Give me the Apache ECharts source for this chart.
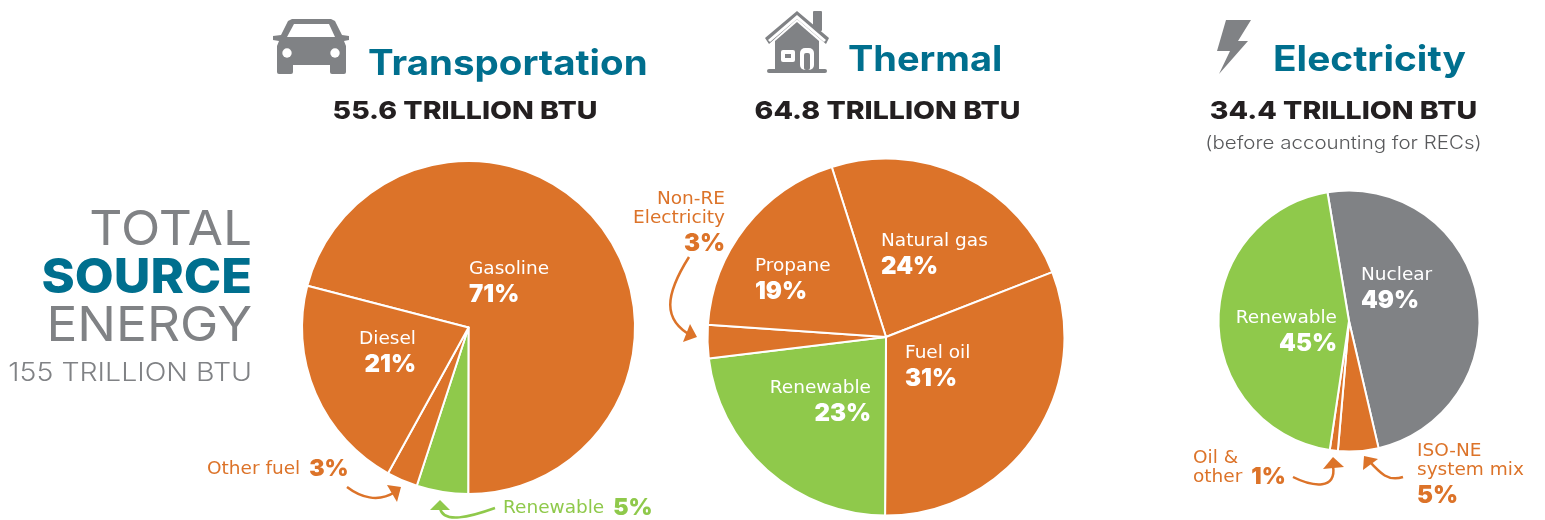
<!DOCTYPE html>
<html>
<head>
<meta charset="utf-8">
<style>
  html, body { margin: 0; padding: 0; background: #fff; }
  #chart { width: 1545px; height: 520px; }
</style>
<script src="https://cdn.jsdelivr.net/npm/echarts@6/dist/echarts.min.js"></script>
</head>
<body>
<div id="chart"></div>
<script>
const transportNames = ['Gasoline', 'Renewable', 'Other fuel', 'Diesel']
const transportValues = [71, 5, 3, 21]
const thermalNames = ['Natural gas', 'Fuel oil', 'Renewable', 'Non-RE\nElectricity', 'Propane']
const thermalValues = [24, 31, 23, 3, 19]
const electricityNames = ['Nuclear', 'ISO-NE\nsystem mix', 'Oil &\nother', 'Renewable']
const electricityValues = [49, 5, 1, 45]
const sectionTitles = ['Transportation', 'Thermal', 'Electricity']
const sectionTotals = ['55.6 TRILLION BTU', '64.8 TRILLION BTU', '34.4 TRILLION BTU']

const ORANGE = '#dc7329'
const GREEN = '#8fc94b'
const GRAY = '#808285'
const TEAL = '#006f8e'
const INK = '#231f20'
const FONT = 'Inter, sans-serif'
const NAME_FONT = '"DejaVu Sans", sans-serif'

// x, y = top of label block, align, color, inline = percent on the same line as the last name line
const transportLabels = [
  { x: 469, y: 259, align: 'left', color: '#fff' },
  { x: 503, y: 498, align: 'left', color: GREEN, inline: true },
  { x: 207, y: 459, align: 'left', color: ORANGE, inline: true },
  { x: 416, y: 329, align: 'right', color: '#fff' },
]
const thermalLabels = [
  { x: 881, y: 231, align: 'left', color: '#fff' },
  { x: 905, y: 343, align: 'left', color: '#fff' },
  { x: 871, y: 378, align: 'right', color: '#fff' },
  { x: 725, y: 189, align: 'right', color: ORANGE },
  { x: 755, y: 256, align: 'left', color: '#fff' },
]
const electricityLabels = [
  { x: 1361, y: 265, align: 'left', color: '#fff' },
  { x: 1417, y: 441, align: 'left', color: ORANGE },
  { x: 1193, y: 448, align: 'left', color: ORANGE, inline: true },
  { x: 1337, y: 308, align: 'right', color: '#fff' },
]

function pieSeries(names, values, colors, labels, center, radius, startAngle) {
  return {
    type: 'pie',
    center: center,
    radius: radius,
    startAngle: startAngle,
    silent: true,
    animation: false,
    itemStyle: { borderColor: '#fff', borderWidth: 2 },
    labelLine: { show: false },
    labelLayout: (params) => {
      const l = labels[params.dataIndex]
      return { x: l.x, y: l.y, align: l.align, verticalAlign: 'top' }
    },
    data: names.map((name, i) => {
      const lines = name.split('\n').map((t) => '{n|' + t + '}')
      const l = labels[i]
      const text = l.inline
        ? lines.join('\n') + '{s| }{pi|' + values[i] + '%}'
        : lines.join('\n') + '\n{p|' + values[i] + '%}'
      const tok = { color: l.color, align: l.align }
      return {
        name: name,
        value: values[i],
        itemStyle: { color: colors[i] },
        label: {
          show: true,
          position: 'inside',
          formatter: text,
          align: l.align,
          rich: {
            n: { ...tok, fontFamily: NAME_FONT, fontSize: 18.5, fontWeight: 400, lineHeight: 19.5 },
            p: { ...tok, fontFamily: FONT, fontSize: 24, fontWeight: 900, lineHeight: 32 },
            pi: { ...tok, fontFamily: FONT, fontSize: 23, fontWeight: 900, lineHeight: 19.5 },
            s: { ...tok, fontFamily: FONT, fontSize: 6, width: 9, lineHeight: 19.5 },
          },
        },
      }
    }),
  }
}

// text is stretched sideways with scaleX, the reference face runs wider than any installed one
function txt(text, x, y, size, weight, fill, align, scaleX) {
  return {
    type: 'text',
    silent: true,
    x: x,
    y: y,
    scaleX: scaleX || 1,
    style: {
      text: text, x: 0, y: 0, fontFamily: FONT, fontSize: size, fontWeight: weight,
      fill: fill, align: align || 'left', verticalAlign: 'middle',
    },
  }
}

function curve(x1, y1, cx1, cy1, cx2, cy2, x2, y2, color) {
  return {
    type: 'bezierCurve',
    silent: true,
    shape: { x1, y1, cpx1: cx1, cpy1: cy1, cpx2: cx2, cpy2: cy2, x2, y2 },
    style: { stroke: color, lineWidth: 2.5, fill: 'none' },
  }
}

function poly(points, fill) {
  return { type: 'polygon', silent: true, shape: { points: points }, style: { fill: fill } }
}

function rect(x, y, width, height, r, fill) {
  return { type: 'rect', silent: true, shape: { x, y, width, height, r }, style: { fill: fill } }
}

function dot(cx, cy, r, fill) {
  return { type: 'circle', silent: true, shape: { cx, cy, r }, style: { fill: fill } }
}

const carIcon = [
  poly([[288, 21], [292, 19], [331, 19], [335, 21], [342, 35], [349, 36], [349, 40], [344, 41], [346, 46], [346, 65], [277, 65], [277, 46], [279, 41], [273, 40], [273, 36], [281, 35]], GRAY),
  rect(277, 60, 16, 14, 2, GRAY),
  rect(330, 60, 16, 14, 2, GRAY),
  poly([[294, 24], [329, 24], [335, 37], [287, 37]], '#fff'),
  dot(287, 53, 4.7, '#fff'),
  dot(335, 53, 4.7, '#fff'),
]

const houseIcon = [
  rect(813, 11, 9, 20, 1, GRAY),
  poly([[797, 11], [829, 38], [826, 44], [797, 19], [769, 44], [765, 38]], GRAY),
  poly([[797, 15], [826, 40], [824, 42], [797, 19], [770, 42], [768, 40]], '#fff'),
  poly([[797, 22], [819, 41], [819, 70], [775, 70], [775, 41]], GRAY),
  rect(767, 69, 60, 4, 2, GRAY),
  rect(781, 50, 14, 12, 2, '#fff'),
  rect(785, 54, 6, 4, 0, GRAY),
  rect(800, 48, 14, 22, 5, '#fff'),
  rect(804, 53, 6, 17, 2, GRAY),
]

const boltIcon = [
  poly([[1226, 20], [1251, 20], [1238, 41], [1248, 41], [1219, 74], [1230, 51], [1217, 51]], GRAY),
]

const arrows = [
  curve(347, 487, 360, 497, 378, 503, 395, 492, ORANGE),
  poly([[387, 485], [401, 487], [397, 502]], ORANGE),
  curve(495, 508, 470, 517, 443, 524, 440, 508, GREEN),
  poly([[430, 510], [440, 500], [450, 510]], GREEN),
  curve(689, 257, 665, 295, 662, 320, 692, 336, ORANGE),
  poly([[690, 324], [697, 337], [683, 342]], ORANGE),
  curve(1293, 477, 1313, 487, 1337, 490, 1333, 466, ORANGE),
  poly([[1323, 469], [1333, 457], [1344, 467]], ORANGE),
  curve(1403, 477, 1388, 482, 1380, 473, 1369, 461, ORANGE),
  poly([[1363, 470], [1364, 456], [1378, 459]], ORANGE),
]

const texts = [
  txt('TOTAL', 252, 231, 48, 400, GRAY, 'right', 1.07),
  txt('SOURCE', 252, 279, 48, 800, TEAL, 'right', 1.05),
  txt('ENERGY', 252, 327, 48, 400, GRAY, 'right', 1.07),
  txt('155 TRILLION BTU', 252, 373, 25, 300, GRAY, 'right', 1.14),
  txt(sectionTitles[0], 368, 64, 35, 700, TEAL, 'left', 1.1),
  txt(sectionTitles[1], 848, 60, 35, 700, TEAL, 'left', 1.085),
  txt(sectionTitles[2], 1273, 60, 35, 700, TEAL, 'left', 1.11),
  txt(sectionTotals[0], 465, 111.5, 25, 800, INK, 'center', 1.14),
  txt(sectionTotals[1], 887.5, 111.5, 25, 800, INK, 'center', 1.14),
  txt(sectionTotals[2], 1343.5, 111.5, 25, 800, INK, 'center', 1.14),
  txt('(before accounting for RECs)', 1343.5, 144, 18, 300, '#58595b', 'center', 1.14),
]

const chart = echarts.init(document.getElementById('chart'), undefined, { renderer: 'canvas' })
chart.setOption({
  backgroundColor: '#fff',
  animation: false,
  tooltip: { show: false },
  series: [
    pieSeries(transportNames, transportValues, [ORANGE, GREEN, ORANGE, ORANGE], transportLabels, [468.5, 327.5], 166.5, 165.5),
    pieSeries(thermalNames, thermalValues, [ORANGE, ORANGE, GREEN, ORANGE, ORANGE], thermalLabels, [886, 337], 178.5, 107.7),
    pieSeries(electricityNames, electricityValues, [GRAY, ORANGE, ORANGE, GREEN], electricityLabels, [1349, 321], 130.5, 99.5),
  ],
  graphic: { elements: [...carIcon, ...houseIcon, ...boltIcon, ...arrows, ...texts] },
})
</script>
</body>
</html>
